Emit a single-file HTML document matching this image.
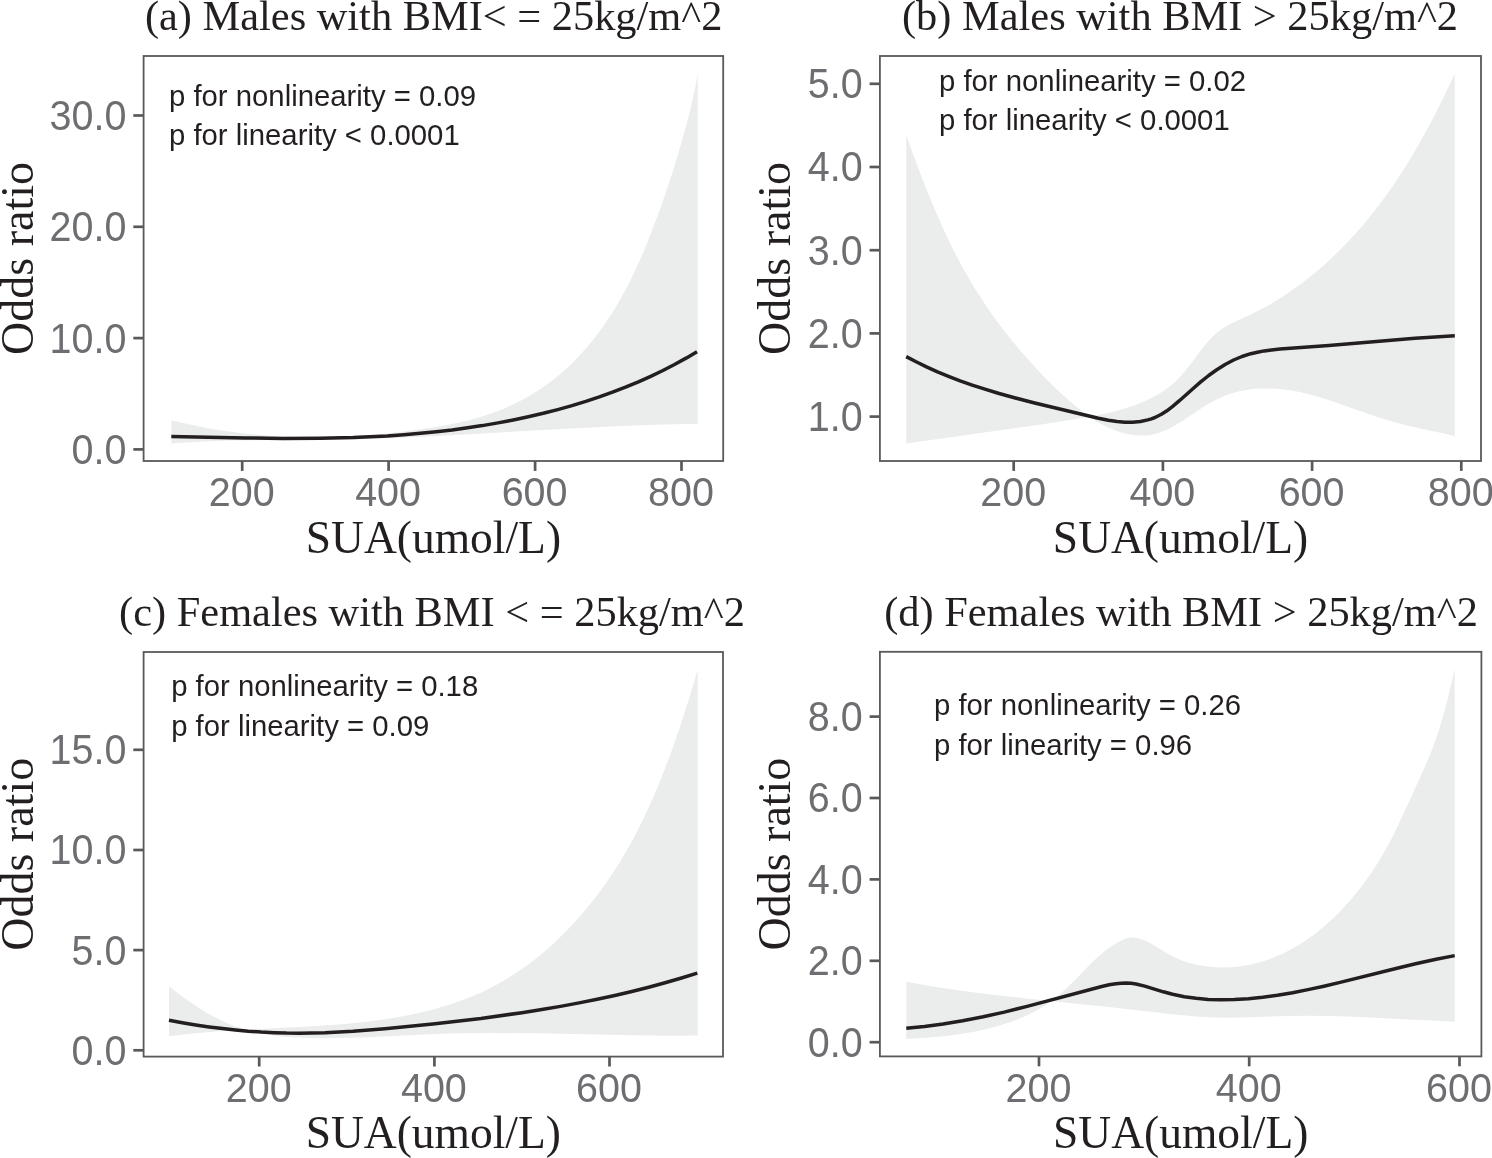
<!DOCTYPE html><html><head><meta charset="utf-8"><style>
html,body{margin:0;padding:0;background:#fff;overflow:hidden}svg{display:block;will-change:transform}
.ti{font-family:"Liberation Serif",serif;font-size:42.4px;fill:#231f20}
.yl{font-family:"Liberation Serif",serif;font-size:46px;fill:#231f20}
.xl{font-family:"Liberation Serif",serif;font-size:45.5px;fill:#231f20}
.tk{font-family:"Liberation Sans",sans-serif;font-size:39.5px;fill:#6d6e71}
.an{font-family:"Liberation Sans",sans-serif;font-size:29.3px;fill:#231f20}
</style></head><body>
<svg width="1492" height="1158" viewBox="0 0 1492 1158">
<rect width="1492" height="1158" fill="#fff"/>
<path d="M171.3 420.3 L183.0 423.1 L194.8 425.6 L206.6 427.9 L218.9 430.0 L231.2 431.8 L243.6 433.4 L256.0 434.6 L268.4 435.7 L280.9 436.4 L293.8 437.0 L306.3 437.3 L319.2 437.3 L332.2 437.1 L345.7 436.6 L358.7 435.9 L372.1 434.9 L386.1 433.6 L400.6 432.0 L415.0 430.1 L429.4 428.0 L441.8 425.9 L453.2 423.7 L463.9 421.4 L473.6 418.9 L482.7 416.3 L491.7 413.3 L500.1 410.2 L507.9 406.9 L515.6 403.3 L523.5 399.2 L531.3 394.7 L538.8 390.0 L545.4 385.5 L552.2 380.4 L558.7 375.2 L565.1 369.7 L571.3 363.9 L577.2 358.0 L582.9 351.8 L588.8 345.1 L594.4 338.2 L599.8 331.1 L605.0 323.8 L610.3 315.9 L615.3 307.8 L620.1 299.6 L624.7 291.3 L629.4 282.4 L634.4 272.0 L639.2 261.4 L644.2 249.9 L649.2 237.8 L660.0 209.2 L669.9 180.5 L678.6 152.5 L686.5 124.3 L690.0 110.8 L692.9 98.1 L695.6 85.4 L697.8 74.0 L697.8 423.8 L653.9 424.8 L604.5 426.8 L557.0 429.2 L441.8 435.8 L385.4 438.4 L360.0 439.3 L336.5 439.7 L259.2 440.2 L229.2 440.6 L198.8 441.7 L171.3 443.5 Z" fill="#ebedec"/>
<path d="M171.3 436.4 L245.2 437.9 L283.3 438.4 L320.0 438.3 L353.2 437.5 L387.3 435.9 L403.8 434.7 L420.3 433.3 L436.3 431.7 L452.2 429.9 L467.5 427.8 L482.3 425.6 L498.0 422.9 L513.2 420.0 L528.3 416.8 L543.3 413.3 L557.7 409.6 L572.0 405.6 L585.8 401.4 L599.4 396.9 L612.5 392.2 L625.5 387.2 L638.4 381.8 L650.7 376.3 L662.9 370.5 L674.5 364.5 L686.5 357.9 L697.0 351.7" fill="none" stroke="#231f20" stroke-width="3.5" stroke-linejoin="round"/>
<rect x="143.6" y="56.0" width="579.6" height="405.0" fill="none" stroke="#58595b" stroke-width="1.8"/>
<line x1="133.3" y1="449.4" x2="143.6" y2="449.4" stroke="#58595b" stroke-width="2.7"/>
<text class="tk" transform="translate(126.4 463.8) scale(1 1.055)" text-anchor="end">0.0</text>
<line x1="133.3" y1="338.1" x2="143.6" y2="338.1" stroke="#58595b" stroke-width="2.7"/>
<text class="tk" transform="translate(126.4 352.5) scale(1 1.055)" text-anchor="end">10.0</text>
<line x1="133.3" y1="226.8" x2="143.6" y2="226.8" stroke="#58595b" stroke-width="2.7"/>
<text class="tk" transform="translate(126.4 241.2) scale(1 1.055)" text-anchor="end">20.0</text>
<line x1="133.3" y1="115.5" x2="143.6" y2="115.5" stroke="#58595b" stroke-width="2.7"/>
<text class="tk" transform="translate(126.4 129.9) scale(1 1.055)" text-anchor="end">30.0</text>
<line x1="242.2" y1="461.0" x2="242.2" y2="470.9" stroke="#58595b" stroke-width="2.7"/>
<text class="tk" transform="translate(241.7 506.4) scale(1 1.045)" text-anchor="middle">200</text>
<line x1="388.6" y1="461.0" x2="388.6" y2="470.9" stroke="#58595b" stroke-width="2.7"/>
<text class="tk" transform="translate(388.1 506.4) scale(1 1.045)" text-anchor="middle">400</text>
<line x1="535.1" y1="461.0" x2="535.1" y2="470.9" stroke="#58595b" stroke-width="2.7"/>
<text class="tk" transform="translate(534.6 506.4) scale(1 1.045)" text-anchor="middle">600</text>
<line x1="681.5" y1="461.0" x2="681.5" y2="470.9" stroke="#58595b" stroke-width="2.7"/>
<text class="tk" transform="translate(681.0 506.4) scale(1 1.045)" text-anchor="middle">800</text>
<text class="ti" x="144.9" y="30.2">(a) Males with BMI&lt; = 25kg/m^2</text>
<text class="an" x="169.0" y="105.7">p for nonlinearity = 0.09</text>
<text class="an" x="169.0" y="145.4">p for linearity &lt; 0.0001</text>
<text class="yl" transform="translate(32.6 258.5) rotate(-90)" text-anchor="middle">Odds ratio</text>
<text class="xl" x="433.4" y="552.6" text-anchor="middle">SUA(umol/L)</text>
<path d="M906.2 135.1 L916.5 163.6 L926.2 188.8 L935.6 211.5 L945.0 232.6 L954.4 252.0 L964.3 270.5 L974.4 287.8 L984.9 304.1 L991.4 313.5 L998.1 322.8 L1005.1 331.9 L1012.5 341.2 L1020.2 350.4 L1028.4 359.8 L1036.8 369.0 L1045.0 377.7 L1052.8 385.5 L1060.4 392.8 L1067.8 399.5 L1075.4 406.0 L1082.5 411.7 L1088.7 416.2 L1094.6 420.2 L1100.8 423.8 L1107.6 427.2 L1114.6 430.2 L1121.2 432.4 L1127.9 434.1 L1134.5 435.2 L1140.7 435.6 L1146.9 435.4 L1152.9 434.5 L1157.5 433.3 L1162.0 431.8 L1167.0 429.7 L1172.3 427.1 L1182.3 421.1 L1201.0 408.6 L1208.5 403.8 L1216.6 399.4 L1224.8 395.8 L1229.9 393.9 L1235.6 392.2 L1240.8 391.0 L1246.5 389.9 L1252.3 389.1 L1258.6 388.6 L1264.4 388.4 L1270.7 388.5 L1280.0 389.1 L1289.8 390.3 L1299.6 392.1 L1310.3 394.6 L1320.4 397.4 L1331.5 400.9 L1375.0 416.2 L1393.7 422.1 L1401.9 424.3 L1411.0 426.5 L1442.5 433.2 L1454.8 436.1 L1454.8 73.6 L1442.6 99.3 L1430.4 123.4 L1418.0 145.7 L1405.7 166.2 L1399.2 176.3 L1392.8 185.9 L1386.2 195.3 L1379.7 204.1 L1372.9 212.8 L1366.0 221.4 L1359.2 229.4 L1352.1 237.2 L1344.9 244.9 L1337.8 252.0 L1330.6 259.0 L1323.2 265.7 L1315.6 272.3 L1308.2 278.3 L1300.7 284.1 L1293.1 289.6 L1279.9 298.4 L1266.7 306.3 L1252.3 313.8 L1234.9 321.7 L1229.2 324.5 L1222.9 328.2 L1217.7 331.9 L1211.8 337.3 L1206.0 343.8 L1200.5 350.8 L1188.0 367.6 L1181.1 375.8 L1177.0 380.0 L1172.8 383.9 L1168.3 387.6 L1163.6 391.0 L1157.4 394.8 L1150.5 398.5 L1143.3 401.8 L1135.4 404.9 L1126.9 407.8 L1117.8 410.5 L1108.1 413.0 L1097.7 415.2 L1076.4 419.1 L1039.7 424.7 L906.2 443.5 Z" fill="#ebedec"/>
<path d="M906.2 356.6 L916.1 361.8 L926.5 366.9 L937.5 371.9 L948.5 376.4 L960.1 380.9 L972.2 385.1 L984.9 389.2 L998.2 393.2 L1015.4 398.0 L1034.7 403.0 L1098.4 418.3 L1108.3 420.3 L1117.1 421.5 L1124.9 422.2 L1132.5 422.2 L1140.5 421.5 L1147.8 419.9 L1151.4 418.8 L1155.0 417.5 L1161.4 414.3 L1166.9 410.8 L1173.0 406.1 L1179.4 400.7 L1194.0 387.7 L1200.7 381.9 L1208.7 375.5 L1216.4 370.0 L1225.1 364.5 L1233.6 360.0 L1242.0 356.5 L1250.8 353.7 L1257.4 352.2 L1264.2 350.9 L1271.5 349.9 L1280.0 349.0 L1328.8 345.5 L1415.0 338.3 L1454.8 335.7" fill="none" stroke="#231f20" stroke-width="3.5" stroke-linejoin="round"/>
<rect x="879.9" y="56.0" width="601.1" height="405.0" fill="none" stroke="#58595b" stroke-width="1.8"/>
<line x1="869.6" y1="416.6" x2="879.9" y2="416.6" stroke="#58595b" stroke-width="2.7"/>
<text class="tk" transform="translate(862.7 431.0) scale(1 1.055)" text-anchor="end">1.0</text>
<line x1="869.6" y1="333.4" x2="879.9" y2="333.4" stroke="#58595b" stroke-width="2.7"/>
<text class="tk" transform="translate(862.7 347.8) scale(1 1.055)" text-anchor="end">2.0</text>
<line x1="869.6" y1="250.2" x2="879.9" y2="250.2" stroke="#58595b" stroke-width="2.7"/>
<text class="tk" transform="translate(862.7 264.6) scale(1 1.055)" text-anchor="end">3.0</text>
<line x1="869.6" y1="167.0" x2="879.9" y2="167.0" stroke="#58595b" stroke-width="2.7"/>
<text class="tk" transform="translate(862.7 181.4) scale(1 1.055)" text-anchor="end">4.0</text>
<line x1="869.6" y1="83.8" x2="879.9" y2="83.8" stroke="#58595b" stroke-width="2.7"/>
<text class="tk" transform="translate(862.7 98.2) scale(1 1.055)" text-anchor="end">5.0</text>
<line x1="1013.7" y1="461.0" x2="1013.7" y2="470.9" stroke="#58595b" stroke-width="2.7"/>
<text class="tk" transform="translate(1013.2 506.4) scale(1 1.045)" text-anchor="middle">200</text>
<line x1="1162.9" y1="461.0" x2="1162.9" y2="470.9" stroke="#58595b" stroke-width="2.7"/>
<text class="tk" transform="translate(1162.4 506.4) scale(1 1.045)" text-anchor="middle">400</text>
<line x1="1312.1" y1="461.0" x2="1312.1" y2="470.9" stroke="#58595b" stroke-width="2.7"/>
<text class="tk" transform="translate(1311.6 506.4) scale(1 1.045)" text-anchor="middle">600</text>
<line x1="1461.3" y1="461.0" x2="1461.3" y2="470.9" stroke="#58595b" stroke-width="2.7"/>
<text class="tk" transform="translate(1460.8 506.4) scale(1 1.045)" text-anchor="middle">800</text>
<text class="ti" x="902.0" y="30.2">(b) Males with BMI &gt; 25kg/m^2</text>
<text class="an" x="939.0" y="90.7">p for nonlinearity = 0.02</text>
<text class="an" x="939.0" y="130.4">p for linearity &lt; 0.0001</text>
<text class="yl" transform="translate(790.0 258.5) rotate(-90)" text-anchor="middle">Odds ratio</text>
<text class="xl" x="1180.5" y="552.6" text-anchor="middle">SUA(umol/L)</text>
<path d="M169.0 986.1 L176.0 991.7 L183.7 997.5 L191.2 1002.8 L198.4 1007.6 L205.4 1011.9 L212.4 1015.9 L219.6 1019.6 L226.4 1022.8 L232.8 1025.4 L239.4 1027.8 L245.9 1029.8 L253.0 1031.7 L260.2 1033.3 L267.9 1034.7 L275.7 1035.8 L284.0 1036.7 L295.8 1037.5 L308.6 1038.0 L323.0 1038.3 L338.9 1038.1 L367.3 1037.2 L439.6 1033.8 L463.3 1033.2 L488.5 1033.0 L536.4 1033.3 L646.5 1035.5 L673.7 1035.7 L697.8 1035.6 L697.8 669.7 L687.8 702.6 L679.0 729.7 L670.4 754.2 L661.7 777.1 L652.6 798.8 L643.4 818.7 L634.0 837.4 L623.9 855.2 L618.5 864.2 L613.1 872.6 L607.5 881.0 L601.7 889.1 L595.6 897.2 L589.4 905.1 L582.9 912.8 L576.6 920.0 L569.7 927.4 L563.0 934.3 L556.1 941.0 L549.1 947.4 L541.9 953.7 L534.9 959.4 L527.7 964.8 L520.4 970.1 L508.0 978.2 L495.1 985.6 L481.9 992.2 L467.9 998.1 L453.1 1003.5 L437.5 1008.3 L421.2 1012.5 L404.1 1016.0 L389.8 1018.5 L374.8 1020.7 L359.3 1022.5 L342.2 1024.2 L308.5 1026.5 L245.2 1029.7 L219.3 1031.2 L192.6 1033.5 L169.0 1036.2 Z" fill="#ebedec"/>
<path d="M169.0 1020.3 L182.3 1022.7 L195.7 1024.9 L209.1 1026.9 L222.5 1028.6 L235.4 1030.0 L248.3 1031.2 L261.2 1032.1 L274.2 1032.7 L286.6 1033.1 L299.1 1033.2 L325.0 1032.7 L353.0 1031.2 L384.9 1028.7 L435.2 1023.7 L480.9 1018.4 L522.0 1012.7 L541.8 1009.6 L560.5 1006.4 L579.1 1002.9 L597.2 999.3 L614.8 995.5 L631.8 991.5 L648.7 987.2 L665.1 982.7 L681.5 978.0 L697.3 973.1" fill="none" stroke="#231f20" stroke-width="3.5" stroke-linejoin="round"/>
<rect x="143.6" y="652.0" width="579.4" height="404.6" fill="none" stroke="#58595b" stroke-width="1.8"/>
<line x1="133.3" y1="1050.3" x2="143.6" y2="1050.3" stroke="#58595b" stroke-width="2.7"/>
<text class="tk" transform="translate(126.4 1064.7) scale(1 1.055)" text-anchor="end">0.0</text>
<line x1="133.3" y1="950.1" x2="143.6" y2="950.1" stroke="#58595b" stroke-width="2.7"/>
<text class="tk" transform="translate(126.4 964.5) scale(1 1.055)" text-anchor="end">5.0</text>
<line x1="133.3" y1="850.0" x2="143.6" y2="850.0" stroke="#58595b" stroke-width="2.7"/>
<text class="tk" transform="translate(126.4 864.4) scale(1 1.055)" text-anchor="end">10.0</text>
<line x1="133.3" y1="749.8" x2="143.6" y2="749.8" stroke="#58595b" stroke-width="2.7"/>
<text class="tk" transform="translate(126.4 764.2) scale(1 1.055)" text-anchor="end">15.0</text>
<line x1="259.2" y1="1056.6" x2="259.2" y2="1066.5" stroke="#58595b" stroke-width="2.7"/>
<text class="tk" transform="translate(258.7 1102.0) scale(1 1.045)" text-anchor="middle">200</text>
<line x1="434.4" y1="1056.6" x2="434.4" y2="1066.5" stroke="#58595b" stroke-width="2.7"/>
<text class="tk" transform="translate(433.9 1102.0) scale(1 1.045)" text-anchor="middle">400</text>
<line x1="609.5" y1="1056.6" x2="609.5" y2="1066.5" stroke="#58595b" stroke-width="2.7"/>
<text class="tk" transform="translate(609.0 1102.0) scale(1 1.045)" text-anchor="middle">600</text>
<text class="ti" x="119.1" y="625.6">(c) Females with BMI &lt; = 25kg/m^2</text>
<text class="an" x="171.2" y="696.1">p for nonlinearity = 0.18</text>
<text class="an" x="171.2" y="735.8">p for linearity = 0.09</text>
<text class="yl" transform="translate(32.6 854.3) rotate(-90)" text-anchor="middle">Odds ratio</text>
<text class="xl" x="433.3" y="1148.0" text-anchor="middle">SUA(umol/L)</text>
<path d="M906.3 981.8 L925.6 985.3 L945.8 988.5 L967.1 991.5 L990.4 994.5 L1026.1 998.5 L1110.9 1007.2 L1172.1 1014.3 L1195.9 1016.5 L1212.9 1017.5 L1228.8 1017.7 L1244.2 1017.4 L1289.6 1015.9 L1308.0 1015.7 L1327.5 1016.0 L1347.4 1016.5 L1369.4 1017.4 L1454.8 1021.7 L1454.8 669.1 L1447.2 701.0 L1443.1 716.3 L1438.5 731.5 L1432.9 747.4 L1426.7 762.6 L1419.4 779.0 L1397.8 826.0 L1392.4 837.0 L1387.3 846.6 L1378.7 861.4 L1369.5 875.4 L1359.9 888.6 L1349.8 900.8 L1339.1 912.4 L1333.7 917.7 L1328.2 922.8 L1322.5 927.8 L1317.1 932.2 L1311.1 936.7 L1305.4 940.7 L1295.4 946.9 L1285.1 952.5 L1274.4 957.3 L1263.9 961.0 L1253.1 964.0 L1242.5 966.0 L1231.6 967.2 L1220.6 967.5 L1212.0 967.1 L1203.4 966.1 L1195.4 964.6 L1187.6 962.4 L1179.4 959.5 L1172.0 956.1 L1166.1 952.8 L1151.8 943.9 L1147.9 941.7 L1143.8 939.9 L1139.3 938.4 L1135.1 937.7 L1131.5 937.6 L1127.3 938.3 L1124.6 939.1 L1121.9 940.2 L1116.2 943.2 L1109.5 947.5 L1102.8 952.7 L1097.6 957.3 L1091.7 962.8 L1073.4 981.7 L1066.9 988.1 L1060.6 993.8 L1054.4 998.8 L1047.6 1003.7 L1040.5 1008.2 L1033.1 1012.3 L1025.1 1016.2 L1013.6 1020.9 L1001.3 1025.1 L988.2 1028.7 L974.3 1031.7 L959.3 1034.2 L943.3 1036.2 L925.8 1037.8 L906.3 1038.9 Z" fill="#ebedec"/>
<path d="M906.3 1028.2 L924.5 1026.5 L943.1 1024.1 L962.6 1020.8 L983.2 1016.8 L1004.2 1012.1 L1027.1 1006.4 L1100.8 986.7 L1109.1 984.8 L1115.9 983.7 L1121.3 983.2 L1126.2 983.0 L1131.1 983.3 L1136.0 984.0 L1144.7 986.1 L1163.3 991.8 L1172.6 994.3 L1184.3 996.7 L1196.1 998.3 L1208.3 999.4 L1221.1 999.8 L1234.3 999.5 L1248.5 998.7 L1262.7 997.2 L1277.4 995.2 L1292.6 992.7 L1309.2 989.4 L1323.9 986.2 L1340.1 982.4 L1395.0 968.7 L1415.6 963.8 L1436.1 959.2 L1454.7 955.6" fill="none" stroke="#231f20" stroke-width="3.5" stroke-linejoin="round"/>
<rect x="879.9" y="651.8" width="601.5" height="404.6" fill="none" stroke="#58595b" stroke-width="1.8"/>
<line x1="869.6" y1="1042.2" x2="879.9" y2="1042.2" stroke="#58595b" stroke-width="2.7"/>
<text class="tk" transform="translate(862.7 1056.6) scale(1 1.055)" text-anchor="end">0.0</text>
<line x1="869.6" y1="960.8" x2="879.9" y2="960.8" stroke="#58595b" stroke-width="2.7"/>
<text class="tk" transform="translate(862.7 975.2) scale(1 1.055)" text-anchor="end">2.0</text>
<line x1="869.6" y1="879.4" x2="879.9" y2="879.4" stroke="#58595b" stroke-width="2.7"/>
<text class="tk" transform="translate(862.7 893.8) scale(1 1.055)" text-anchor="end">4.0</text>
<line x1="869.6" y1="798.0" x2="879.9" y2="798.0" stroke="#58595b" stroke-width="2.7"/>
<text class="tk" transform="translate(862.7 812.4) scale(1 1.055)" text-anchor="end">6.0</text>
<line x1="869.6" y1="716.6" x2="879.9" y2="716.6" stroke="#58595b" stroke-width="2.7"/>
<text class="tk" transform="translate(862.7 731.0) scale(1 1.055)" text-anchor="end">8.0</text>
<line x1="1039.0" y1="1056.4" x2="1039.0" y2="1066.3" stroke="#58595b" stroke-width="2.7"/>
<text class="tk" transform="translate(1038.5 1101.8) scale(1 1.045)" text-anchor="middle">200</text>
<line x1="1249.2" y1="1056.4" x2="1249.2" y2="1066.3" stroke="#58595b" stroke-width="2.7"/>
<text class="tk" transform="translate(1248.8 1101.8) scale(1 1.045)" text-anchor="middle">400</text>
<line x1="1459.5" y1="1056.4" x2="1459.5" y2="1066.3" stroke="#58595b" stroke-width="2.7"/>
<text class="tk" transform="translate(1459.0 1101.8) scale(1 1.045)" text-anchor="middle">600</text>
<text class="ti" x="884.2" y="625.6">(d) Females with BMI &gt; 25kg/m^2</text>
<text class="an" x="934.0" y="715.0">p for nonlinearity = 0.26</text>
<text class="an" x="934.0" y="754.7">p for linearity = 0.96</text>
<text class="yl" transform="translate(790.0 854.1) rotate(-90)" text-anchor="middle">Odds ratio</text>
<text class="xl" x="1180.7" y="1148.0" text-anchor="middle">SUA(umol/L)</text>
</svg></body></html>
